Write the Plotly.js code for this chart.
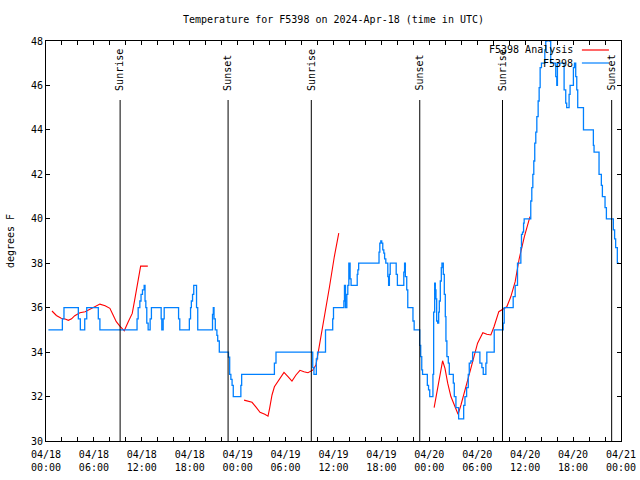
<!DOCTYPE html>
<html>
<head>
<meta charset="utf-8">
<script src="https://cdn.plot.ly/plotly-3.0.1.min.js"></script>
<style>html,body{margin:0;padding:0;background:#fff}#chart{width:640px;height:480px}</style>
</head>
<body>
<div id="chart"></div>
<script>
// ---- data (hours after 2024-04-18 00:00 UTC) ----
const obsHours = [0.3,2.05,2.25,4.05,4.3,4.85,5.1,6.55,6.75,11.3,11.4,11.54,11.75,11.9,12.08,12.29,12.4,12.5,12.62,12.79,13.04,13.2,14.42,14.5,14.67,14.8,16.6,16.75,17.95,18.1,18.2,18.35,18.5,18.85,19.0,20.85,20.95,21.04,21.2,21.4,21.5,21.7,22.85,23.0,23.15,23.3,23.45,24.4,24.5,28.6,28.8,33.4,33.55,33.85,34.0,35.0,35.9,36.0,37.3,37.375,37.5,37.67,37.79,37.92,38.08,38.2,38.97,39.05,39.15,41.7,41.8,41.92,42.04,42.17,42.3,42.4,42.55,42.8,42.9,43.0,43.1,43.85,44.0,44.8,44.9,45.0,45.17,45.3,45.95,46.1,46.8,46.92,47.05,47.15,47.75,47.9,48.05,48.45,48.54,48.67,48.75,48.83,48.92,49.04,49.17,49.25,49.375,49.5,49.58,49.75,49.875,50.0,50.08,50.2,50.375,50.5,51.0,51.125,51.33,51.67,52.3,52.46,52.67,52.875,53.0,53.2,53.42,54.33,54.58,54.75,55.08,55.2,56.125,57.25,57.375,58.5,58.75,59.04,59.46,59.54,59.67,59.8,59.875,60.7,60.83,60.96,61.08,61.2,61.33,61.46,61.625,61.75,61.875,62.04,62.46,62.58,62.75,63.0,63.2,63.83,63.96,64.04,64.875,65.08,65.2,65.5,65.625,66.04,66.17,66.33,66.46,66.58,67.3,68.54,68.625,69.25,69.54,69.67,70.0,70.17,71.04,71.2,71.33,71.54,71.75];
const obsTemp = [35,35.5,36,35.5,35,35.5,36,35.5,35,35,35.5,36,36.3,36.6,36.8,37,36.3,36,35.3,35,35.5,36,35.5,35,35.5,36,35.5,35,35.5,36,36.3,36.6,37,36,35,35.7,36,35.5,35,34.75,34.5,34,33.77,33,32.77,32.5,32,32.5,33,33.5,34,33.3,33,33.7,34,35,35.5,36,36.3,37,36,36.6,37,38,37.3,37,37.5,37.7,38,38.5,38.9,39,38.9,38.6,38.45,38.2,38,37.4,37,37.5,38,37.5,37,37.6,38,37.4,36.8,36,35.4,35,34.3,33.8,33.2,33,32.5,32.3,32,33,35.8,37.1,36.8,36.4,35.4,35.3,35.8,36.3,37.2,37.8,38,37.5,36.6,35.6,34.5,33.8,33.5,33,32.6,32,31.5,31,31.6,32,32.4,33,33.5,33.6,34,33.5,33.3,33,33.5,34,35,35.3,36,36.5,37,38,38.7,39.3,39.4,39.8,40,40.8,41.4,42,42.6,43.4,43.9,44.6,45.3,45.9,46.8,47,47.6,48,48.5,48,47,46.4,46,47,45.8,45.2,45,45.6,46,46.8,47,46.4,45.8,45,44,43.3,43,42,41.5,41,40.5,40,39.5,39.1,38.7,38,38];

const anaHours = [0.75,1.3,1.9,2.4,2.8,3.2,3.6,4.25,4.9,5.5,6.1,6.75,7.4,8.0,8.4,8.8,9.25,9.8,10.3,10.8,11.1,11.5,11.85,12.75,
  null,
  24.8,25.3,25.8,26.3,26.8,27.4,27.8,28.0,28.3,28.6,29.25,29.8,30.3,30.8,31.3,31.8,32.3,32.8,33.4,33.8,34.1,34.5,34.9,35.5,36.1,36.66,
  null,
  48.6,48.83,49.2,49.46,49.66,49.96,50.3,50.7,51.1,51.6,51.96,52.4,52.8,53.2,53.6,54.04,54.7,55.2,55.7,56.1,56.7,57.2,57.7,58.2,58.75,59.25,59.9,60.6];
const anaTemp = [35.85,35.65,35.52,35.49,35.43,35.5,35.64,35.77,35.82,35.94,36.04,36.16,36.09,35.97,35.67,35.37,35.17,34.96,35.37,35.74,36.34,37.24,37.87,37.87,
  null,
  31.84,31.8,31.74,31.52,31.29,31.2,31.12,31.47,32.07,32.44,32.82,33.09,32.9,32.7,32.97,33.18,33.12,33.07,33.19,33.42,34.02,34.85,35.59,36.94,38.29,39.35,
  null,
  31.5,32.0,32.74,33.27,33.61,33.27,32.6,32.0,31.62,31.2,31.62,32.15,32.74,33.27,33.87,34.4,34.87,34.8,34.77,35.14,35.82,35.92,36.04,36.49,37.17,38.2,39.2,40.1];

const sunHours  = [9.28, 22.8, 33.22, 46.8, 57.16, 70.83];
const sunLabels = ['Sunrise','Sunset','Sunrise','Sunset','Sunrise','Sunset'];

const tickHours  = [0,6,12,18,24,30,36,42,48,54,60,66,72];
const tickLabels = ['04/18<br>00:00','04/18<br>06:00','04/18<br>12:00','04/18<br>18:00',
                    '04/19<br>00:00','04/19<br>06:00','04/19<br>12:00','04/19<br>18:00',
                    '04/20<br>00:00','04/20<br>06:00','04/20<br>12:00','04/20<br>18:00','04/21<br>00:00'];
const minorStepHours = 2;
const legendNames = ['F5398 Analysis','F5398'];

// ---- build ----
const BASE = Date.UTC(2024, 3, 18);
const HOUR = 3600000;
const toX = h => (h === null ? null : BASE + h * HOUR);

const tickvals = [], ticktext = [];
for (let h = 0; h <= 72; h += minorStepHours) {
  tickvals.push(toX(h));
  const i = tickHours.indexOf(h);
  ticktext.push(i >= 0 ? tickLabels[i] : '');
}

const FONT = 'DejaVu Sans Mono, monospace';
const RED = '#ff0000', BLUE = '#0080ff';

const traces = [
  {x: anaHours.map(toX), y: anaTemp, type: 'scatter', mode: 'lines', name: legendNames[0],
   line: {color: RED, width: 1.1}, connectgaps: false, hoverinfo: 'skip'},
  {x: obsHours.map(toX), y: obsTemp, type: 'scatter', mode: 'lines', name: legendNames[1],
   line: {color: BLUE, width: 1.3, shape: 'hv'}, hoverinfo: 'skip'}
];

const shapes = [], annotations = [];
sunHours.forEach((h, i) => {
  shapes.push({type: 'line', xref: 'x', yref: 'paper', x0: toX(h), x1: toX(h), y0: 0, y1: 0.8525,
               line: {color: 'black', width: 1}});
  annotations.push({text: sunLabels[i], xref: 'x', yref: 'paper', x: toX(h), y: 0.873,
                    xanchor: 'center', yanchor: 'bottom', textangle: -90, showarrow: false,
                    font: {family: FONT, size: 10, color: 'black'}, borderpad: 0});
});
// legend (gnuplot style: text right-aligned, sample line to the right)
const legendColors = [RED, BLUE];
const legendY = [0.9775, 0.945];
legendNames.forEach((n, i) => {
  annotations.push({text: n, xref: 'paper', yref: 'paper', x: 0.919, y: legendY[i],
                    xanchor: 'right', yanchor: 'middle', showarrow: false, borderpad: 0,
                    font: {family: FONT, size: 10, color: 'black'}});
  shapes.push({type: 'line', xref: 'paper', yref: 'paper', x0: 0.932, x1: 0.979,
               y0: legendY[i], y1: legendY[i], line: {color: legendColors[i], width: 1.2}});
});

const layout = {
  width: 640, height: 480,
  margin: {l: 46, r: 19, t: 41, b: 39, pad: 0},
  paper_bgcolor: 'white', plot_bgcolor: 'white',
  font: {family: FONT, size: 10, color: 'black'},
  showlegend: false,
  title: {text: 'Temperature for F5398 on 2024-Apr-18 (time in UTC)', xref: 'paper', x: 0.5,
          yref: 'container', y: 1 - 19 / 480, yanchor: 'middle', font: {family: FONT, size: 10, color: 'black'}},
  xaxis: {type: 'date', range: [toX(0), toX(72)], tickmode: 'array', tickvals: tickvals, ticktext: ticktext,
          ticks: 'inside', ticklen: 4, tickcolor: 'black', tickwidth: 1, showline: true, linecolor: 'black',
          linewidth: 1, mirror: 'ticks', showgrid: false, zeroline: false, tickangle: 0, fixedrange: true,
          ticklabelstandoff: 4},
  yaxis: {range: [30, 48], tickmode: 'linear', tick0: 30, dtick: 2, ticks: 'inside', ticklen: 4,
          tickcolor: 'black', tickwidth: 1, showline: true, linecolor: 'black', linewidth: 1, mirror: 'ticks',
          showgrid: false, zeroline: false, fixedrange: true,
          title: {text: 'degrees F', standoff: 14, font: {family: FONT, size: 10, color: 'black'}}},
  shapes: shapes,
  annotations: annotations
};

Plotly.newPlot('chart', traces, layout, {staticPlot: true, displayModeBar: false});
</script>
</body>
</html>
